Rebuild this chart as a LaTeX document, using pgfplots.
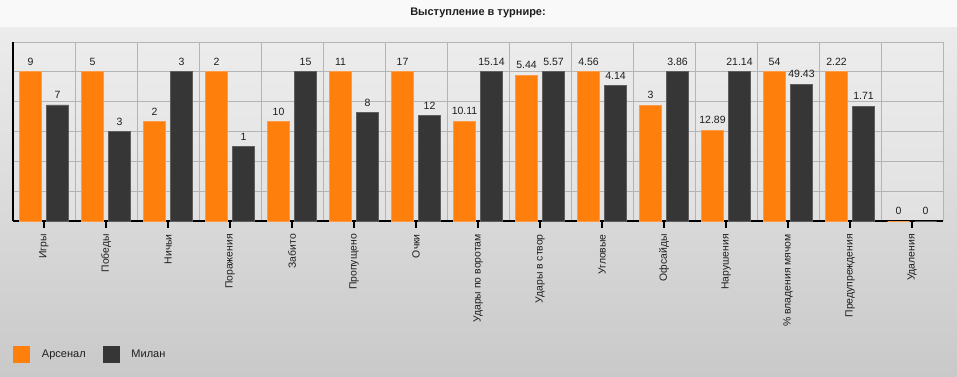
\documentclass[border=0pt]{standalone}
\usepackage{pgfplots}
\pgfplotsset{compat=1.18}
\usepackage{pgfplotstable}
\usepackage{fontspec}
\setmainfont{Liberation Sans}
\definecolor{ars}{HTML}{FF7F0C}
\definecolor{arsedge}{HTML}{FF9A45}
\definecolor{mil}{HTML}{363636}
\definecolor{miledge}{HTML}{5E5E5E}
\definecolor{titlebg}{HTML}{F9F9F9}
\definecolor{bgtop}{HTML}{ECECEC}
\definecolor{bgbot}{HTML}{C9C9C9}
\definecolor{plottop}{HTML}{ECECEC}
\definecolor{plotbot}{HTML}{E1E1E1}
\definecolor{gridc}{HTML}{B4B4B4}
\definecolor{txt}{HTML}{1E1E1E}
% y = value scaled so that the larger of each pair is 100; lab = value shown
\pgfplotstableread{
x y lab
0 100 9
1 100 5
2 66.67 2
3 100 2
4 66.67 10
5 100 11
6 100 17
7 66.78 10.11
8 97.67 5.44
9 100 4.56
10 77.72 3
11 60.97 12.89
12 100 54
13 100 2.22
14 0 0
}\arsenal
\pgfplotstableread{
x y lab
0 77.78 7
1 60 3
2 100 3
3 50 1
4 100 15
5 72.73 8
6 70.59 12
7 100 15.14
8 100 5.57
9 90.79 4.14
10 100 3.86
11 100 21.14
12 91.54 49.43
13 77.03 1.71
14 0 0
}\milan
\begin{document}
\begin{tikzpicture}
\fill[top color=bgtop,bottom color=bgbot] (0pt,-27pt) rectangle (957pt,-376pt);
\fill[titlebg] (0pt,0pt) rectangle (957pt,-27pt);
\node[font=\bfseries\fontsize{11}{13}\selectfont, text=txt] at (478pt,-13pt) {Выступление в турнире:};
\begin{axis}[
  at={(13pt,-221pt)}, anchor=south west,
  scale only axis, width=930pt, height=179pt,
  xmin=-0.5, xmax=14.5, ymin=0, ymax=120,
  axis background/.style={top color=plottop, bottom color=plotbot},
  axis x line*=bottom, axis y line*=left,
  axis line style={line width=2pt, black},
  xtick={0,...,14},
  xticklabels={Игры,Победы,Ничьи,Поражения,Забито,Пропущено,Очки,Удары по воротам,Удары в створ,Угловые,Офсайды,Нарушения,\% владения мячом,Предупреждения,Удаления},
  minor xtick={0.5,1.5,...,14.5},
  xminorgrids, minor grid style={gridc, line width=1pt},
  minor tick length=0pt,
  ytick={20,40,...,120}, ymajorgrids, major grid style={gridc, line width=1pt},
  yticklabels={},
  tick align=outside,
  major tick length=7pt,
  x tick style={black, line width=1.5pt},
  y tick style={draw=none},
  xticklabel shift=7pt,
  xticklabel style={rotate=90, anchor=east, inner sep=0pt, xshift=1pt, font=\fontsize{10.4}{12}\selectfont, text=txt},
  ybar=5pt, bar width=22pt,
  nodes near coords, point meta=explicit symbolic,
  every node near coord/.append style={font=\fontsize{10.5}{12}\selectfont, inner sep=0pt, anchor=south, yshift=6pt, text=txt},
  clip=false,
  legend columns=2,
  legend style={at={(axis description cs:0,0)}, anchor=west, yshift=-133pt,
    draw=none, fill=none, inner sep=0pt, font=\fontsize{11}{13}\selectfont, text=txt,
    nodes={inner sep=0pt},
    /tikz/every odd column/.append style={column sep=12pt},
    /tikz/every even column/.append style={column sep=17pt}},
  legend cell align=left,
]
\addplot[fill=ars, draw=arsedge, line width=0.8pt,
  legend image code/.code={\fill[ars] (0pt,-8pt) rectangle (16pt,8pt);}]
  table[x=x, y=y, meta=lab] {\arsenal};
\addlegendentry{Арсенал}
\addplot[fill=mil, draw=miledge, line width=0.8pt,
  legend image code/.code={\fill[mil] (0pt,-8pt) rectangle (16pt,8pt);}]
  table[x=x, y=y, meta=lab] {\milan};
\addlegendentry{Милан}
\end{axis}
\pgfresetboundingbox
\useasboundingbox (0pt,0pt) rectangle (957pt,-376pt);
\end{tikzpicture}
\end{document}
